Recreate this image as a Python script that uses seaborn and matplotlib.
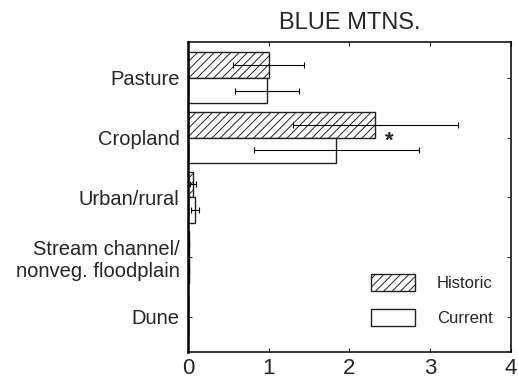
import pandas as pd
import matplotlib
matplotlib.use("Agg")
import matplotlib.pyplot as plt
import seaborn as sns
from matplotlib.patches import Patch

categories = ["Pasture", "Cropland", "Urban/rural", "Stream channel/\nnonveg. floodplain", "Dune"]
periods = ["Historic", "Current"]
historic = [1.00, 2.32, 0.06, 0.010, 0.004]
historic_err = [0.44, 1.02, 0.035, 0.0, 0.0]
current = [0.98, 1.84, 0.09, 0.008, 0.004]
current_err = [0.40, 1.02, 0.05, 0.0, 0.0]

df = pd.DataFrame({
    "category": categories * 2,
    "period": ["Historic"] * len(categories) + ["Current"] * len(categories),
    "value": historic + current,
})

sns.set_style("ticks")
plt.rcParams["font.family"] = ["Liberation Sans", "DejaVu Sans"]
plt.rcParams["hatch.linewidth"] = 0.7

fig = plt.figure(figsize=(5.18, 3.81), dpi=100)
ax = fig.add_axes([0.363, 0.076, 0.623, 0.814])

sns.barplot(data=df, x="value", y="category", hue="period", hue_order=periods,
            order=categories, orient="h", width=0.86, errorbar=None,
            palette=["white", "white"], edgecolor="#222222", linewidth=1.0,
            legend=False, ax=ax)

for p in ax.containers[0]:
    p.set_hatch("////")

for cont, vals, errs in zip(ax.containers, [historic, current], [historic_err, current_err]):
    ys = [p.get_y() + p.get_height() / 2 for p in cont]
    ax.errorbar(vals, ys, xerr=errs, fmt="none", ecolor="black",
                elinewidth=0.8, capsize=2.5, capthick=0.8)

ax.text(2.5, 1.06, "*", fontsize=16, fontweight="bold", ha="center", va="center")

ax.set_xlim(0, 4)
ax.set_ylim(4.59, -0.6)
ax.set_xticks([0, 1, 2, 3, 4])
ax.set_xlabel("")
ax.set_ylabel("")
ax.tick_params(axis="x", direction="in", top=True, length=3, labelsize=16, pad=4)
ax.tick_params(axis="y", direction="in", right=True, length=3, labelsize=14.5, pad=6)
for s in ax.spines.values():
    s.set_visible(True)
    s.set_linewidth(1.1)
    s.set_color("black")
ax.spines["left"].set_linewidth(1.8)

ax.set_title("BLUE MTNS.", fontsize=17, pad=9)

handles = [Patch(facecolor="white", edgecolor="#222222", hatch="////", label="Historic"),
           Patch(facecolor="white", edgecolor="#222222", label="Current")]
ax.legend(handles=handles, loc="upper left", bbox_to_anchor=(0.567, 0.252),
          frameon=False, fontsize=12, borderpad=0, borderaxespad=0,
          handlelength=2.64, handleheight=1.2, handletextpad=1.32, labelspacing=1.05)

fig.savefig("out.png", dpi=100)
